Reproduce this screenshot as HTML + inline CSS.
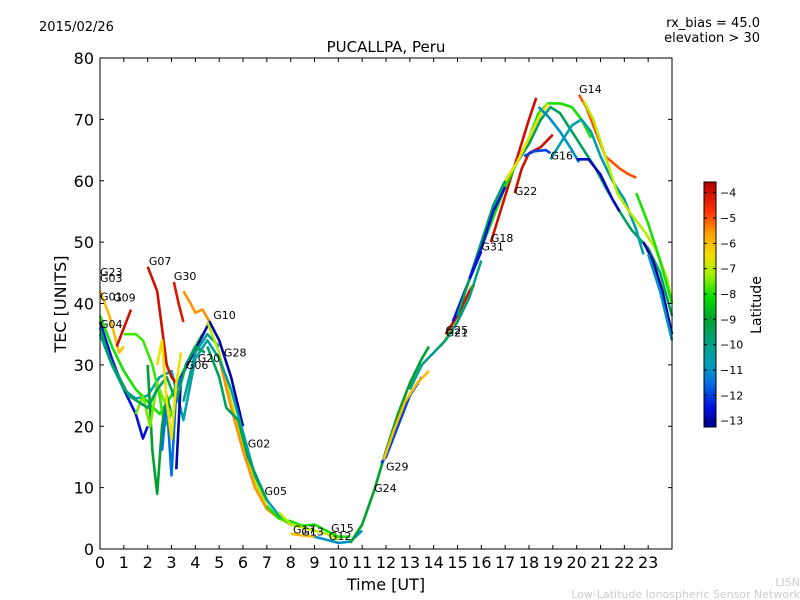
<!DOCTYPE html>
<html><head><meta charset="utf-8"><style>
body{margin:0;background:#fff;}
svg{display:block;font-family:"DejaVu Sans","Liberation Sans",sans-serif;}
</style></head><body>
<svg id="c" width="800" height="600" viewBox="0 0 800 600">
<defs>
<linearGradient id="cbg" x1="0" y1="1" x2="0" y2="0">
<stop offset="0" stop-color="#00008c"/><stop offset="0.08" stop-color="#0010e0"/><stop offset="0.18" stop-color="#0070e0"/><stop offset="0.26" stop-color="#00a0b8"/><stop offset="0.36" stop-color="#00a078"/><stop offset="0.44" stop-color="#00a030"/><stop offset="0.53" stop-color="#00e000"/><stop offset="0.62" stop-color="#a0f000"/><stop offset="0.70" stop-color="#f0e000"/><stop offset="0.79" stop-color="#ffa000"/><stop offset="0.88" stop-color="#ff3000"/><stop offset="1" stop-color="#b00000"/>
</linearGradient>
</defs>
<rect x="0" y="0" width="800" height="600" fill="#fff"/>
<g id="marks"></g>
<g id="axes"></g>
<text x="39" y="31" font-size="13">2015/02/26</text>
<text x="386" y="52" font-size="15" text-anchor="middle">PUCALLPA, Peru</text>
<text x="760" y="27" font-size="13" text-anchor="end">rx_bias = 45.0</text>
<text x="760" y="42" font-size="13" text-anchor="end">elevation &gt; 30</text>
<text x="386" y="590" font-size="16" text-anchor="middle">Time [UT]</text>
<text transform="translate(66,304) rotate(-90)" font-size="16" text-anchor="middle">TEC [UNITS]</text>
<rect x="704" y="182" width="12" height="245" fill="url(#cbg)" stroke="#000" stroke-width="1"/>
<g id="cbt"></g>
<text transform="translate(761,305) rotate(-90)" font-size="14" text-anchor="middle">Latitude</text>
<text x="800" y="586" font-size="11" fill="#ccc" text-anchor="end">LISN</text>
<text x="800" y="598" font-size="11" fill="#ccc" text-anchor="end">Low-Latitude Ionospheric Sensor Network</text>
</svg>
<script>
const xTicks=[0,1,2,3,4,5,6,7,8,9,10,11,12,13,14,15,16,17,18,19,20,21,22,23];
const yTicks=[0,10,20,30,40,50,60,70,80];
const cbTicks=[-4,-5,-6,-7,-8,-9,-10,-11,-12,-13];
const trackLat=[-6,-8,-12.5,-10.5,-4,-7.8,-4,-4.2,-5.5,-13,-10.2,-9,-7,-5.5,-10.5,-9.5,-8,-7,-6,-11,-9,-12,-6,-7,-4,-12.5,-4,-9.5,-8,-6.5,-4,-12,-10.5,-11,-12.8,-5,-7,-8,-13,-11,-12.5,-10,-7.5,-9.5,-11.5,-6.5];
const trackT=[
[0,0.4,0.8,1],
[0,0.5,1,1.5,2,2.5,3,3.5,4,4.3],
[0,0.5,1,1.5,1.8,2],
[0,0.5,1,1.5,2,2.5,3,3.5,4,4.5,5],
[0.7,1,1.3],
[1,1.5,1.8,2.2,2.5,2.7,3],
[2,2.2,2.4,2.6,2.8,3,3.2],
[3.1,3.3,3.5],
[3.5,3.8,4,4.3,4.6],
[3.2,3.4,3.8,4.2,4.6,5,5.5,6],
[3.5,4,4.5,5],
[2,2.2,2.4,2.6,2.8,3],
[4.5,5,5.5,6,6.5,7,7.5,8],
[5,5.5,6,6.5,7,7.5],
[5,5.5,6,6.5,7,7.5,8],
[4.5,5,5.3,5.8,6.2,7],
[7,7.5,8,8.5,9,9.5,10,10.5],
[7.5,8,8.5,9,9.5,10],
[8,8.5,9],
[9,9.5,10,10.5,11],
[10.5,11,11.5,12,12.5,13,13.5,13.8],
[11.8,12,12.5,13,13.5],
[11.9,12.3,12.8,13.3,13.8],
[14.3,14.8,15.2,15.6],
[14.5,15,15.5,15.7],
[14.8,15.3,16],
[16.4,16.8,17.2,17.6,18,18.3],
[15,15.5,16,16.5,17,17.5,18,18.5,18.9,19.3,19.8,20.3,20.8,21.2,21.8,22.3,23,23.5,24],
[16,16.5,17,17.5,18,18.4,18.8,19.3,19.8,20.2,20.6],
[17,17.5,18,18.5,18.8],
[17.4,17.7,18,18.5,19],
[17.8,18.2,18.7,18.9],
[18.9,19.3,19.8,20.2,20.6,21,21.5,22,22.5,22.8],
[18.4,18.8,19.3,19.8,20.1],
[20,20.5,21,21.5,21.8],
[20.1,20.4,20.8,21.2,21.8,22.2,22.5],
[20.3,20.7,21.2,21.7,22.2,22.8,23.3,23.8,24],
[22.5,23,23.5,24],
[22.8,23.2,23.6,24],
[23,23.5,24],
[15.5,16,16.5,17],
[13,13.5,14,14.5,15,15.5,16],
[1.5,1.8,2.1,2.4,2.7,3],
[0,0.4,0.8,1.2,1.6,2,2.4,2.8,3.2,3.6,4,4.4],
[2.6,2.8,3,3.2,3.4],
[2.4,2.6,2.8,3,3.2,3.4]
];
const trackV=[
[42,38,32,33],
[38,33,29,26,24,22,25,29,33,35],
[37,31,26,22,18,20],
[35,30,26,24.5,25,28,29,21,31,34,31],
[33,36,39],
[35,35,34,30,25,20,22],
[46,44,42,36,30,28,27],
[43.5,40,37],
[42,40,38.5,39,37],
[13,28,31,34,37,34,28,20],
[24,32,35,33],
[30,16,9,20,25,22],
[37,32,24,17,11,7,5,4],
[31,23,16,10,6.5,5],
[31,26,19,12,8,5.5,4],
[33,28,23,21,15,8],
[7,5,4.5,3.8,4,3,2,2],
[6,4,3.5,3,2.5,1.5],
[2.5,2.2,2],
[2,1.5,1,1.2,3],
[1,4,9.5,16,22,27,31,33],
[14,15,20,25,28],
[14.5,19,24,27,29],
[33,36,39,43],
[35,38,42,43],
[37,42,48.5],
[50,55,60,65,70,73.5],
[38,44,50,56,60,63,66,70,72,71,68,65,62,59,55,52,49,45,38],
[49,54,59,63,67,71,72.6,72.6,72,70,67],
[60,63,67,71,72.5],
[58,62,64.5,65.5,67.5],
[64,64.8,65,64.5],
[63.5,66,69,70,68,64,60,57,52,48],
[72,70.5,68,65,63],
[63.5,63.5,61,57,55],
[74,72,68,64,62,61,60.5],
[73,70,64,58,55,52,49,44,40],
[58,53,47,40],
[50,47,42,35],
[48,42,34],
[44,49,55,59],
[26,30,32,34,37,41,47],
[22,25,20,27,24,22],
[36,31,28,25,24,23,26,28,24,30,33,32],
[16,24,12,26,28],
[30,34,24,18,27,32]
];
const labelText=["G23","G03","G01","G09","G04","G07","G30","G10","G28","G20","G06","G02","G05","G17","G13","G15","G12","G24","G29","G25","G21","G31","G18","G22","G16","G14"];
const labelT=[0,0,0,0.55,0,2.05,3.1,4.75,5.2,4.1,3.6,6.2,6.9,8.1,8.45,9.7,9.6,11.5,12,14.5,14.5,16,16.4,17.4,18.9,20.1];
const labelV=[44.5,43.5,40.5,40.3,36,46.3,43.8,37.5,31.4,30.5,29.3,16.5,8.8,2.5,2.2,2.8,1.5,9.3,12.8,35,34.6,48.6,50,57.7,63.5,74.3];

const NS="http://www.w3.org/2000/svg";
const X0=100,X1=672,Y0=549,Y1=58;
function xs(t){return X0+t*(X1-X0)/24;}
function ys(v){return Y0-v*(Y0-Y1)/80;}
const cstops=[[0,[0,0,140]],[0.08,[0,16,224]],[0.18,[0,112,224]],[0.26,[0,160,184]],[0.36,[0,160,120]],[0.44,[0,160,48]],[0.53,[0,224,0]],[0.62,[160,240,0]],[0.70,[240,224,0]],[0.79,[255,160,0]],[0.88,[255,48,0]],[1,[176,0,0]]];
function col(lat){let n=(lat+13.25)/(13.25-3.58);n=Math.max(0,Math.min(1,n));
for(let i=1;i<cstops.length;i++){if(n<=cstops[i][0]){const a=cstops[i-1],b=cstops[i];const f=(n-a[0])/(b[0]-a[0]);const c=a[1].map((v,k)=>Math.round(v+(b[1][k]-v)*f));return`rgb(${c[0]},${c[1]},${c[2]})`;}}return"rgb(176,0,0)";}
function cbY(l){return 182+(-3.58-l)*245/(13.25-3.58);}
const marks=document.getElementById('marks');
trackT.forEach((ts,i)=>{
const p=document.createElementNS(NS,'polyline');
p.setAttribute('points',ts.map((t,j)=>xs(t).toFixed(1)+','+ys(trackV[i][j]).toFixed(1)).join(' '));
p.setAttribute('fill','none');p.setAttribute('stroke',col(trackLat[i]));p.setAttribute('stroke-width','2.6');p.setAttribute('stroke-linejoin','round');


marks.appendChild(p);});
labelText.forEach((s,i)=>{
const t=document.createElementNS(NS,'text');
t.setAttribute('x',xs(labelT[i]));t.setAttribute('y',ys(labelV[i]));t.setAttribute('font-size','11');t.textContent=s;


marks.appendChild(t);});
const ax=document.getElementById('axes');
const fr=document.createElementNS(NS,'rect');
fr.setAttribute('x',X0);fr.setAttribute('y',Y1);fr.setAttribute('width',X1-X0);fr.setAttribute('height',Y0-Y1);fr.setAttribute('fill','none');fr.setAttribute('stroke','#000');


ax.appendChild(fr);
function line(x1,y1,x2,y2,parent){const l=document.createElementNS(NS,'line');l.setAttribute('x1',x1);l.setAttribute('y1',y1);l.setAttribute('x2',x2);l.setAttribute('y2',y2);l.setAttribute('stroke','#000');parent.appendChild(l);return l;}
xTicks.forEach(t=>{const x=xs(t);
const a=line(x,Y0,x,Y0-4,ax);
const b=line(x,Y1,x,Y1+4,ax);
const tx=document.createElementNS(NS,'text');tx.setAttribute('x',x);tx.setAttribute('y',568);tx.setAttribute('font-size','16');tx.setAttribute('text-anchor','middle');tx.textContent=t;


ax.appendChild(tx);});
yTicks.forEach(v=>{const y=ys(v);
const a=line(X0,y,X0+4,y,ax);
const b=line(X1,y,X1-4,y,ax);
const tx=document.createElementNS(NS,'text');tx.setAttribute('x',94);tx.setAttribute('y',y+6);tx.setAttribute('font-size','16');tx.setAttribute('text-anchor','end');tx.textContent=v;


ax.appendChild(tx);});
const cbt=document.getElementById('cbt');
cbTicks.forEach(l=>{const y=cbY(l);
const a=line(704,y,707,y,cbt);
const b=line(716,y,713,y,cbt);
const tx=document.createElementNS(NS,'text');tx.setAttribute('x',720);tx.setAttribute('y',y+4);tx.setAttribute('font-size','11');tx.textContent='\u2212'+Math.abs(l);


cbt.appendChild(tx);});
</script>
</body></html>
